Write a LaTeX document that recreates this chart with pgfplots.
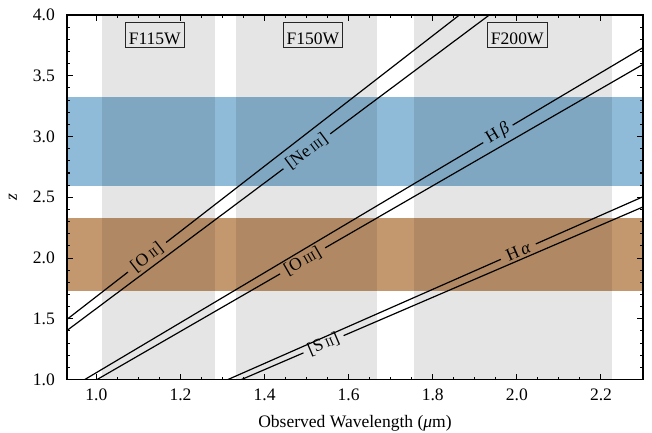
\documentclass[border=0pt]{standalone}
\usepackage{fontspec}
\setmainfont{Liberation Serif}
\usepackage{pgfplots}
\pgfplotsset{compat=1.18}

\definecolor{zblue}{RGB}{143,187,217}
\definecolor{zorange}{RGB}{196,152,111}
% small capitals for ionisation stages
\newcommand{\rn}[1]{{\fontsize{8.4pt}{9pt}\selectfont #1}}

\begin{document}
\fontsize{11.7pt}{14pt}\selectfont
\begin{tikzpicture}
\begin{axis}[
  scale only axis,
  width=384.4pt, height=243.3pt,
  xmin=0.93, xmax=2.3, ymin=1, ymax=4,
  xtick={1.0,1.2,1.4,1.6,1.8,2.0,2.2},
  ytick={1.0,1.5,2.0,2.5,3.0,3.5,4.0},
  minor x tick num=3, minor y tick num=4,
  tick align=inside,
  major tick length=4pt, minor tick length=2pt,
  every tick/.style={black, line width=0.7pt},
  axis line style={line width=0.9pt},
  /pgf/number format/assume math mode=true,
  /pgf/number format/fixed,
  /pgf/number format/fixed zerofill,
  /pgf/number format/precision=1,
  xticklabel style={yshift=-2pt},
  yticklabel style={xshift=-4pt},
  xlabel={Observed Wavelength (\textit{μ}m)},
  ylabel={\textit{z}},
  xlabel style={at={(axis description cs:0.5,-0.1315)}, anchor=base},
  ylabel style={at={(axis description cs:-0.094,0.5)}, anchor=center},
  axis on top,
  clip=true,
]

% redshift windows
\addplot[draw=none, fill=zblue, forget plot] coordinates {(0.9,2.594) (2.4,2.594) (2.4,3.324) (0.9,3.324)} -- cycle;
\addplot[draw=none, fill=zorange, forget plot] coordinates {(0.9,1.726) (2.4,1.726) (2.4,2.329) (0.9,2.329)} -- cycle;

% NIRCam wide filters
\addplot[draw=none, fill=black, fill opacity=0.1, forget plot] coordinates {(1.013,0.9) (1.282,0.9) (1.282,4.1) (1.013,4.1)} -- cycle;
\addplot[draw=none, fill=black, fill opacity=0.1, forget plot] coordinates {(1.331,0.9) (1.668,0.9) (1.668,4.1) (1.331,4.1)} -- cycle;
\addplot[draw=none, fill=black, fill opacity=0.1, forget plot] coordinates {(1.755,0.9) (2.227,0.9) (2.227,4.1) (1.755,4.1)} -- cycle;

% emission lines, z = lambda_obs / lambda_rest - 1, broken where labelled
\pgfplotsset{eline/.style={black, line width=0.8pt, no marks, forget plot}}
% [O II] 3727
\addplot[eline] coordinates {(0.7454,1.0) (1.075,1.8844)};
\addplot[eline] coordinates {(1.166,2.1285) (1.8635,4.0)};
% [Ne III] 3869
\addplot[eline] coordinates {(0.7738,1.0) (1.445,2.7348)};
\addplot[eline] coordinates {(1.556,3.0217) (1.9345,4.0)};
% H beta 4861
\addplot[eline] coordinates {(0.9722,1.0) (1.920,2.9498)};
\addplot[eline] coordinates {(1.990,3.0938) (2.4305,4.0)};
% [O III] 5007
\addplot[eline] coordinates {(1.0014,1.0) (1.437,1.8700)};
\addplot[eline] coordinates {(1.544,2.0837) (2.5035,4.0)};
% H alpha 6563
\addplot[eline] coordinates {(1.3126,1.0) (1.962,1.9895)};
\addplot[eline] coordinates {(2.045,2.1160) (3.2815,4.0)};
% [S II] 6724
\addplot[eline] coordinates {(1.3448,1.0) (1.4925,1.2197)};
\addplot[eline] coordinates {(1.588,1.3617) (3.362,4.0)};

% line labels, set along each line in its gap
\path (axis cs:1.075,1.8844) -- (axis cs:1.166,2.1285) node[midway, sloped, inner sep=0pt] {[O\,\rn{II}]};
\path (axis cs:1.445,2.7348) -- (axis cs:1.556,3.0217) node[midway, sloped, inner sep=0pt] {[Ne\,\rn{III}]};
\path (axis cs:1.920,2.9498) -- (axis cs:1.990,3.0938) node[midway, sloped, inner sep=0pt] {H\,\textit{β}};
\path (axis cs:1.437,1.8700) -- (axis cs:1.544,2.0837) node[midway, sloped, inner sep=0pt] {[O\,\rn{III}]};
\path (axis cs:1.962,1.9895) -- (axis cs:2.045,2.1160) node[midway, sloped, inner sep=0pt] {H\,\textit{α}};
\path (axis cs:1.4925,1.2197) -- (axis cs:1.588,1.3617) node[midway, sloped, inner sep=0pt] {[S\,\rn{II}]};

% filter names
\tikzset{fbox/.style={draw=black!85, line width=0.5pt, inner xsep=2.2pt, inner ysep=1.5pt, text height=13.2pt, text depth=0pt}}
\node[fbox] at (axis cs:1.139,3.836) {F115W};
\node[fbox] at (axis cs:1.515,3.836) {F150W};
\node[fbox] at (axis cs:2.001,3.836) {F200W};
\end{axis}
\pgfresetboundingbox
\path ([xshift=-44.67pt,yshift=-35.33pt]current axis.south west) rectangle ([xshift=6pt,yshift=10pt]current axis.north east);
\end{tikzpicture}
\end{document}
